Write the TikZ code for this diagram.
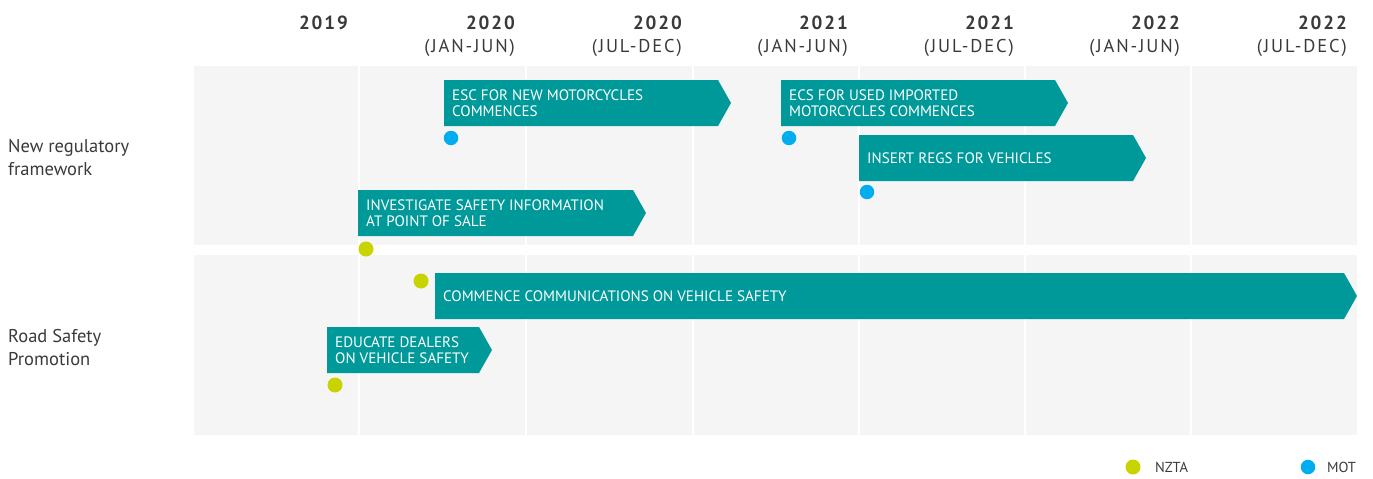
\documentclass[tikz,border=0pt]{standalone}
\usepackage{fontspec}
\setmainfont{PT Sans}
\newfontfamily\hdrfont[LetterSpace=10]{PT Sans}
\definecolor{teal}{HTML}{009999}
\definecolor{panel}{HTML}{F5F5F5}
\definecolor{mot}{HTML}{00AEEF}
\definecolor{nzta}{HTML}{C8D400}
\definecolor{ink}{HTML}{3A3A3A}
\begin{document}
\begin{tikzpicture}[x=1pt,y=-1pt,
  bannertext/.style={anchor=west,align=left,text=white,inner sep=0pt,
    font=\fontsize{15.1}{15.8}\selectfont},
  yearlbl/.style={anchor=base east,inner sep=0pt,text=ink,font=\hdrfont\fontsize{19}{20}\selectfont\bfseries},
  periodlbl/.style={anchor=base east,inner sep=0pt,text=ink,font=\hdrfont\fontsize{18.5}{20}\selectfont},
  rowlbl/.style={anchor=north west,align=left,inner sep=0pt,text=ink,font=\fontsize{18.5}{23}\selectfont},
  legtext/.style={anchor=west,inner sep=0pt,text=ink,font=\fontsize{14.5}{16}\selectfont},
  dotmot/.style={circle,fill=mot,inner sep=0pt,minimum size=14.5pt},
  dotnzta/.style={circle,fill=nzta,inner sep=0pt,minimum size=15pt}]
\useasboundingbox (0,0) rectangle (1373,479);
% panels
\fill[panel] (194,66) rectangle (1357,245);
\fill[panel] (194,255) rectangle (1357,435);
\foreach \x in {359,526,693,859,1025,1191}{
  \draw[white,line width=1.3pt] (\x,66) -- (\x,245);
  \draw[white,line width=1.3pt] (\x,255) -- (\x,435);
}
% headers
\node[yearlbl] (y1) at (348,29) {2019};
\node[yearlbl] (y2) at (515,29) {2020};
\node[periodlbl] (p2) at (515,52) {(JAN-JUN)};
\node[yearlbl] (y3) at (682,29) {2020};
\node[periodlbl] (p3) at (682,52) {(JUL-DEC)};
\node[yearlbl] (y4) at (848,29) {2021};
\node[periodlbl] (p4) at (848,52) {(JAN-JUN)};
\node[yearlbl] (y5) at (1014,29) {2021};
\node[periodlbl] (p5) at (1014,52) {(JUL-DEC)};
\node[yearlbl] (y6) at (1180,29) {2022};
\node[periodlbl] (p6) at (1180,52) {(JAN-JUN)};
\node[yearlbl] (y7) at (1347,29) {2022};
\node[periodlbl] (p7) at (1347,52) {(JUL-DEC)};
% row labels
\node[rowlbl] (r1) at (8,139) {New regulatory\\framework};
\node[rowlbl] (r2) at (8,329) {Road Safety\\Promotion};
% banners
\newcommand{\bannershape}[3]{% x1, x2(tip), ytop
  \fill[teal] (#1,#3) -- (#2-13,#3) -- (#2,#3+23) -- (#2-13,#3+46) -- (#1,#3+46) -- cycle;}
\bannershape{444}{731}{80}
\node[bannertext] (b1) at (452,103) {ESC FOR NEW MOTORCYCLES\\COMMENCES};
\node[dotmot] (d1) at (451,138) {};
\bannershape{781}{1068}{80}
\node[bannertext] (b2) at (789,103) {ECS FOR USED IMPORTED\\MOTORCYCLES COMMENCES};
\node[dotmot] (d2) at (789,138) {};
\bannershape{859}{1146}{135}
\node[bannertext] (b3) at (867,158) {INSERT REGS FOR VEHICLES};
\node[dotmot] (d3) at (867,192) {};
\bannershape{358}{646}{190}
\node[bannertext] (b4) at (366,213) {INVESTIGATE SAFETY INFORMATION\\AT POINT OF SALE};
\node[dotnzta] (d4) at (366,249) {};
\bannershape{435}{1357}{273}
\node[bannertext] (b5) at (443,296) {COMMENCE COMMUNICATIONS ON VEHICLE SAFETY};
\node[dotnzta] (d5) at (421,281) {};
\bannershape{327}{492}{327}
\node[bannertext] (b6) at (335,350) {EDUCATE DEALERS\\ON VEHICLE SAFETY};
\node[dotnzta] (d6) at (335,385) {};
% legend
\node[dotnzta] (ln) at (1133,467) {};
\node[legtext] (lnt) at (1155,467) {NZTA};
\node[dotmot] (lm) at (1308,467) {};
\node[legtext] (lmt) at (1327,467) {MOT};
\end{tikzpicture}
\end{document}
